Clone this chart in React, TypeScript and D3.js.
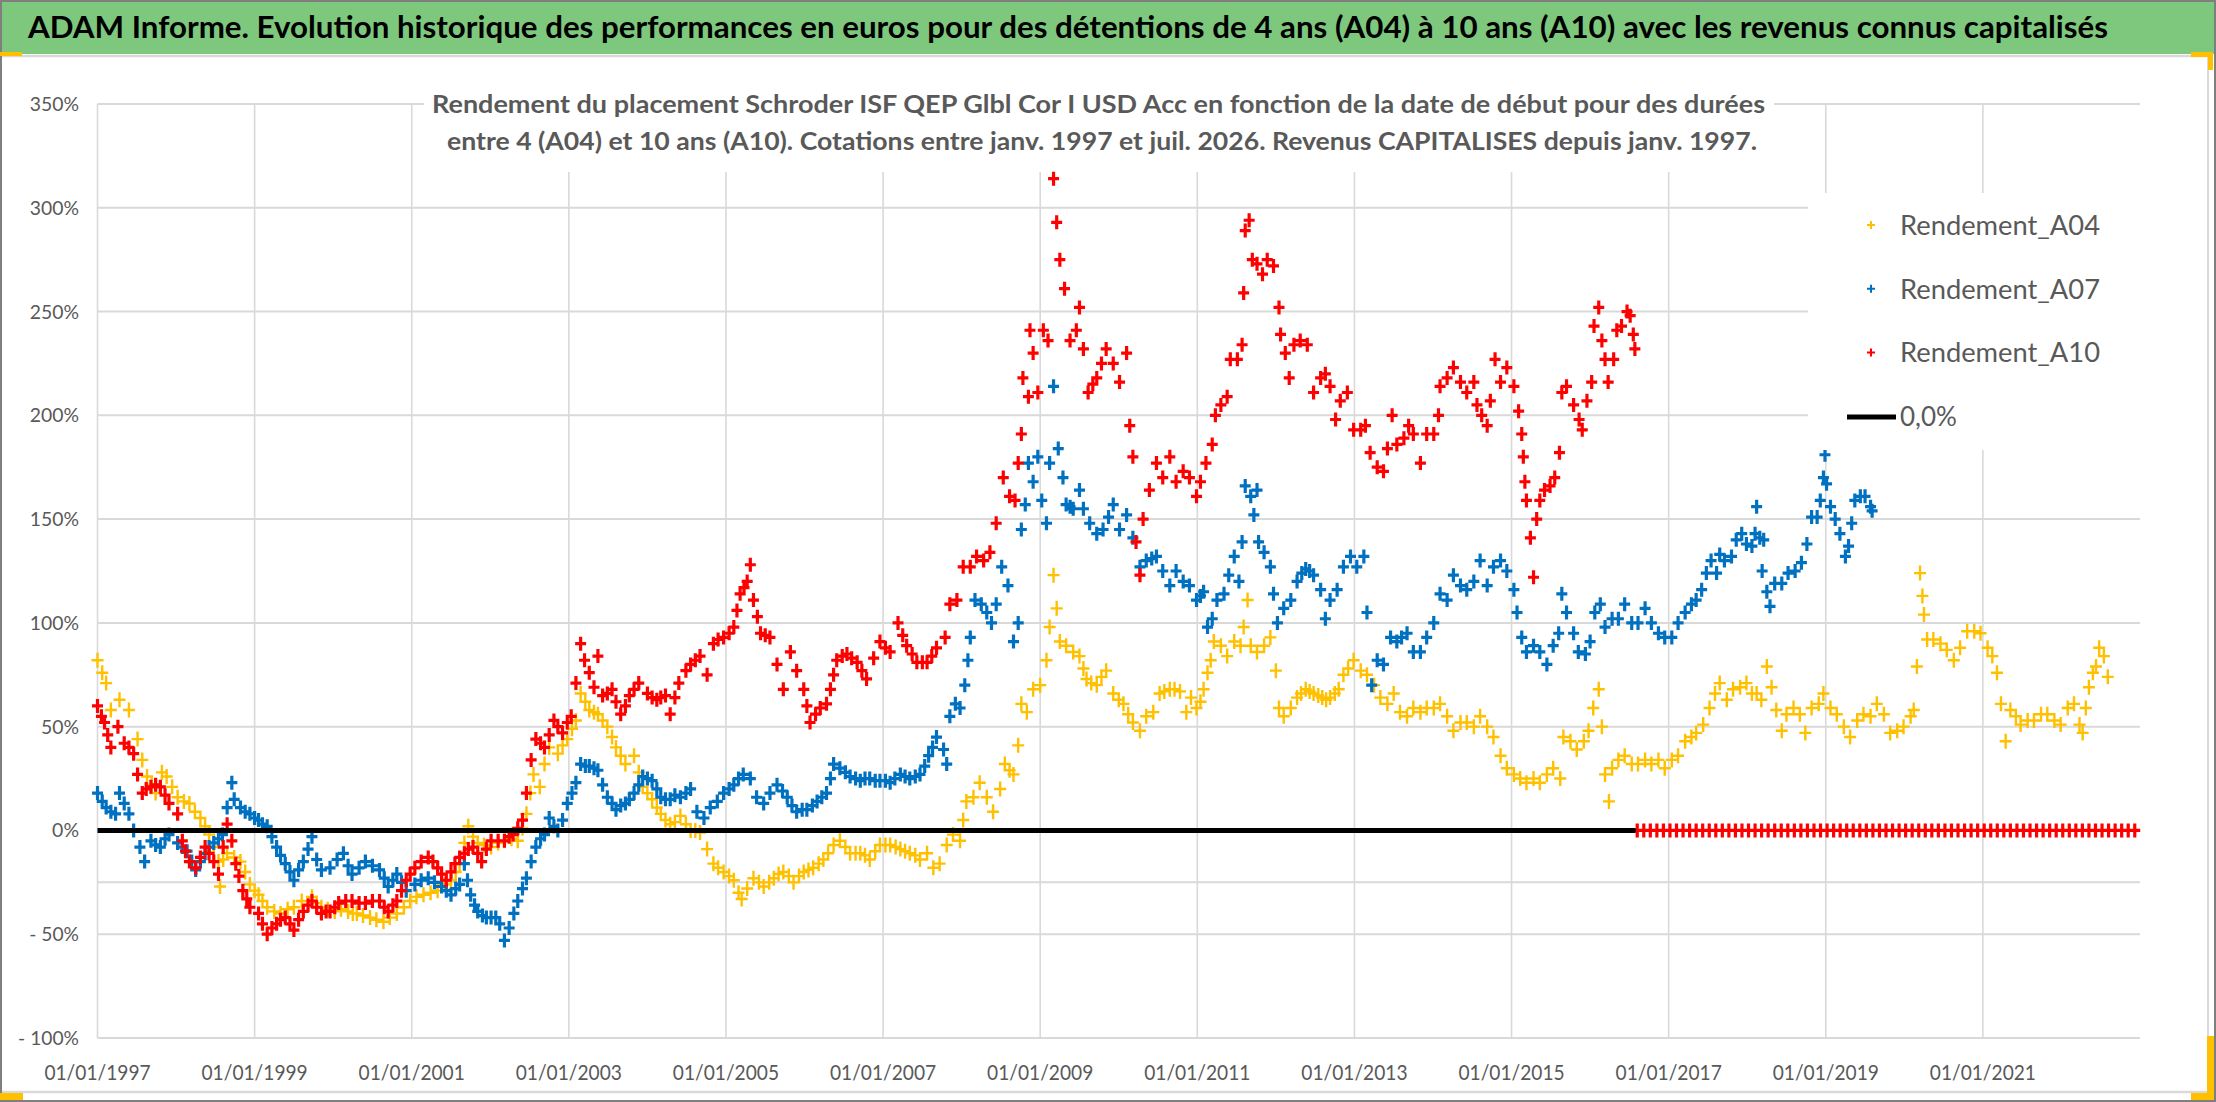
import * as d3 from 'd3';

// Canvas + plot frame (pixels of the reference)
const W = 2216;
const H = 1102;
const PLOT = { left: 97.5, right: 2140, top: 104, bottom: 1038 };
const FONT = 'Lato, "Open Sans", "Liberation Sans", sans-serif';
const GRID = '#d9d9d9';
const TEXT = '#595959';

// Axes
const X_DOMAIN: [number, number] = [1997, 2023];
const Y_DOMAIN: [number, number] = [-100, 350];
const X_TICK_YEARS = [1997, 1999, 2001, 2003, 2005, 2007, 2009, 2011, 2013, 2015, 2017, 2019, 2021];
const Y_TICKS = [350, 300, 250, 200, 150, 100, 50, 0, -50, -100];
const REF_LINE = -25;

const TITLE = 'ADAM Informe. Evolution historique des performances en euros pour des détentions de 4 ans (A04) à 10 ans (A10) avec les revenus connus capitalisés';
const SUBTITLE = [
  'Rendement du placement Schroder ISF QEP Glbl Cor I USD Acc en fonction de la date de début pour des durées',
  'entre 4 (A04) et 10 ans (A10). Cotations entre janv. 1997 et juil. 2026. Revenus CAPITALISES depuis janv. 1997.',
];

// [start date as decimal year, return in %]
const A04: [number, number][] = [
  [1997.0, 82], [1997.06, 76], [1997.11, 71], [1997.17, 58], [1997.28, 63], [1997.4, 58], [1997.51, 44],
  [1997.57, 34], [1997.63, 26], [1997.69, 22], [1997.74, 18], [1997.82, 28], [1997.88, 26], [1997.95, 21],
  [1998.02, 16], [1998.1, 14], [1998.17, 13], [1998.24, 9], [1998.31, 6], [1998.37, 2], [1998.42, -2],
  [1998.48, -8], [1998.54, -15], [1998.56, -27], [1998.6, -14], [1998.65, -11], [1998.74, -13], [1998.82, -15],
  [1998.88, -20], [1998.94, -26], [1999.0, -29], [1999.05, -31], [1999.1, -34], [1999.16, -37], [1999.25, -39],
  [1999.33, -40], [1999.42, -38], [1999.5, -37], [1999.6, -34], [1999.73, -32], [1999.79, -35], [1999.85, -37],
  [1999.93, -38], [2000.02, -39], [2000.1, -38], [2000.19, -39], [2000.25, -40], [2000.3, -40], [2000.38, -41],
  [2000.47, -42], [2000.55, -43], [2000.64, -44], [2000.72, -42], [2000.81, -40], [2000.9, -37], [2000.98, -34],
  [2001.06, -32], [2001.15, -31], [2001.24, -30], [2001.33, -29], [2001.42, -26], [2001.5, -24], [2001.56, -20],
  [2001.61, -16], [2001.67, -6], [2001.72, 2], [2001.78, -3], [2001.84, -6], [2001.92, -7], [2002.01, -8],
  [2002.1, -6], [2002.18, -5], [2002.27, -4], [2002.35, -5], [2002.41, 1], [2002.46, 8], [2002.51, 18],
  [2002.55, 27], [2002.63, 21], [2002.69, 32], [2002.75, 40], [2002.86, 37], [2002.92, 41], [2002.98, 44],
  [2003.04, 49], [2003.09, 53], [2003.15, 66], [2003.21, 62], [2003.26, 58], [2003.32, 57], [2003.37, 56],
  [2003.43, 53], [2003.49, 50], [2003.55, 45], [2003.6, 40], [2003.66, 36], [2003.72, 32], [2003.83, 36],
  [2003.89, 28], [2003.94, 21], [2004.0, 18], [2004.06, 15], [2004.12, 11], [2004.17, 8], [2004.23, 5],
  [2004.29, 3], [2004.35, 4], [2004.42, 7], [2004.49, 3], [2004.55, 0], [2004.61, 0], [2004.67, -1],
  [2004.76, -9], [2004.84, -16], [2004.9, -18], [2004.97, -20], [2005.04, -22], [2005.1, -24], [2005.16, -30],
  [2005.2, -33], [2005.27, -28], [2005.35, -23], [2005.42, -25], [2005.48, -27], [2005.55, -25], [2005.61, -23],
  [2005.67, -21], [2005.73, -20], [2005.8, -22], [2005.86, -25], [2005.93, -22], [2005.99, -20], [2006.05, -19],
  [2006.11, -18], [2006.18, -16], [2006.24, -14], [2006.3, -11], [2006.37, -7], [2006.45, -5], [2006.52, -8],
  [2006.58, -11], [2006.65, -11], [2006.71, -11], [2006.77, -12], [2006.83, -14], [2006.9, -10], [2006.96, -7],
  [2007.03, -7], [2007.09, -7], [2007.16, -8], [2007.22, -9], [2007.28, -10], [2007.34, -11], [2007.41, -12],
  [2007.47, -14], [2007.56, -11], [2007.64, -18], [2007.72, -16], [2007.81, -7], [2007.89, -2], [2007.98, -5],
  [2008.02, 5], [2008.06, 14], [2008.15, 16], [2008.23, 23], [2008.32, 16], [2008.4, 9], [2008.49, 20],
  [2008.55, 32], [2008.61, 29], [2008.66, 27], [2008.72, 41], [2008.76, 61], [2008.83, 57], [2008.91, 68],
  [2009.0, 70], [2009.08, 82], [2009.12, 98], [2009.17, 123], [2009.21, 107], [2009.25, 91], [2009.33, 89],
  [2009.42, 86], [2009.5, 84], [2009.55, 78], [2009.59, 73], [2009.65, 71], [2009.72, 70], [2009.78, 74],
  [2009.84, 77], [2009.93, 66], [2010.0, 63], [2010.06, 61], [2010.12, 56], [2010.18, 52], [2010.27, 48],
  [2010.35, 55], [2010.44, 57], [2010.52, 66], [2010.58, 67], [2010.65, 68], [2010.71, 68], [2010.78, 67],
  [2010.86, 57], [2010.92, 64], [2010.99, 59], [2011.04, 62], [2011.08, 68], [2011.13, 76], [2011.17, 82],
  [2011.21, 91], [2011.3, 89], [2011.38, 84], [2011.47, 91], [2011.55, 89], [2011.59, 98], [2011.64, 111],
  [2011.68, 89], [2011.76, 86], [2011.85, 89], [2011.93, 93], [2012.0, 77], [2012.04, 59], [2012.1, 55],
  [2012.19, 59], [2012.27, 64], [2012.32, 66], [2012.38, 68], [2012.43, 67], [2012.48, 66], [2012.54, 65],
  [2012.59, 64], [2012.64, 63], [2012.69, 64], [2012.75, 66], [2012.8, 68], [2012.86, 75], [2012.92, 78],
  [2012.99, 82], [2013.08, 77], [2013.16, 75], [2013.25, 70], [2013.33, 64], [2013.42, 61], [2013.5, 66],
  [2013.58, 57], [2013.67, 55], [2013.75, 59], [2013.84, 57], [2013.92, 59], [2014.01, 59], [2014.09, 61],
  [2014.18, 55], [2014.26, 48], [2014.35, 52], [2014.43, 52], [2014.52, 50], [2014.6, 55], [2014.69, 50],
  [2014.77, 45], [2014.86, 36], [2014.94, 30], [2015.03, 27], [2015.11, 25], [2015.19, 23], [2015.28, 25],
  [2015.36, 23], [2015.45, 27], [2015.53, 30], [2015.62, 25], [2015.66, 45], [2015.75, 43], [2015.83, 39],
  [2015.92, 43], [2015.98, 48], [2016.04, 59], [2016.11, 68], [2016.15, 50], [2016.19, 27], [2016.24, 14],
  [2016.28, 30], [2016.36, 34], [2016.44, 36], [2016.53, 32], [2016.61, 32], [2016.7, 34], [2016.78, 32],
  [2016.87, 34], [2016.95, 30], [2017.04, 34], [2017.12, 36], [2017.21, 43], [2017.29, 45], [2017.35, 47],
  [2017.44, 51], [2017.52, 59], [2017.59, 66], [2017.65, 71], [2017.74, 63], [2017.82, 68], [2017.91, 69],
  [2017.99, 71], [2018.06, 66], [2018.12, 66], [2018.18, 63], [2018.25, 79], [2018.31, 69], [2018.37, 58],
  [2018.44, 48], [2018.5, 56], [2018.59, 59], [2018.67, 56], [2018.74, 47], [2018.82, 59], [2018.91, 61],
  [2018.97, 66], [2019.06, 59], [2019.14, 56], [2019.23, 50], [2019.31, 45], [2019.4, 53], [2019.48, 56],
  [2019.57, 55], [2019.65, 61], [2019.74, 56], [2019.82, 47], [2019.91, 48], [2019.99, 50], [2020.08, 55],
  [2020.12, 58], [2020.16, 79], [2020.2, 124], [2020.23, 113], [2020.25, 104], [2020.29, 92], [2020.37, 92],
  [2020.46, 90], [2020.54, 87], [2020.63, 82], [2020.71, 88], [2020.8, 96], [2020.89, 96], [2020.97, 95],
  [2021.06, 88], [2021.12, 84], [2021.18, 76], [2021.23, 61], [2021.29, 43], [2021.35, 58], [2021.42, 55],
  [2021.48, 51], [2021.57, 53], [2021.65, 53], [2021.74, 56], [2021.82, 56], [2021.91, 53], [2021.99, 51],
  [2022.08, 59], [2022.16, 61], [2022.23, 51], [2022.27, 47], [2022.31, 59], [2022.35, 69], [2022.4, 76],
  [2022.44, 79], [2022.48, 88], [2022.54, 84], [2022.59, 74],
];

const A07: [number, number][] = [
  [1997.0, 18], [1997.06, 14], [1997.11, 11], [1997.17, 9], [1997.23, 8], [1997.28, 18], [1997.34, 13],
  [1997.4, 8], [1997.46, 0], [1997.54, -8], [1997.6, -15], [1997.68, -5], [1997.74, -7], [1997.8, -8],
  [1997.86, -4], [1997.91, -2], [1998.02, -6], [1998.08, -8], [1998.14, -10], [1998.2, -15], [1998.25, -19],
  [1998.31, -15], [1998.37, -11], [1998.42, -8], [1998.48, -6], [1998.54, -4], [1998.59, -2], [1998.65, 11],
  [1998.71, 23], [1998.74, 15], [1998.82, 11], [1998.88, 9], [1998.94, 8], [1999.0, 6], [1999.05, 5],
  [1999.1, 3], [1999.16, 2], [1999.22, -3], [1999.28, -8], [1999.33, -12], [1999.39, -16], [1999.45, -20],
  [1999.5, -24], [1999.56, -19], [1999.62, -15], [1999.68, -9], [1999.73, -3], [1999.79, -14], [1999.85, -19],
  [1999.96, -18], [2000.05, -14], [2000.13, -11], [2000.19, -17], [2000.24, -21], [2000.33, -18], [2000.41, -15],
  [2000.5, -17], [2000.59, -19], [2000.65, -23], [2000.7, -27], [2000.76, -24], [2000.81, -21], [2000.87, -25],
  [2000.93, -29], [2001.04, -26], [2001.12, -24], [2001.21, -23], [2001.29, -25], [2001.38, -27], [2001.44, -29],
  [2001.5, -31], [2001.56, -28], [2001.61, -26], [2001.67, -16], [2001.71, -24], [2001.75, -31], [2001.8, -36],
  [2001.84, -39], [2001.9, -41], [2001.95, -42], [2002.01, -42], [2002.07, -42], [2002.12, -45], [2002.18, -53],
  [2002.24, -47], [2002.3, -40], [2002.35, -34], [2002.41, -28], [2002.46, -23], [2002.52, -15], [2002.58, -8],
  [2002.64, -4], [2002.69, -2], [2002.75, 6], [2002.81, 2], [2002.86, 0], [2002.92, 5], [2002.98, 13],
  [2003.04, 18], [2003.09, 23], [2003.15, 32], [2003.21, 31], [2003.26, 31], [2003.32, 30], [2003.37, 29],
  [2003.43, 22], [2003.49, 16], [2003.55, 13], [2003.6, 10], [2003.66, 12], [2003.72, 13], [2003.77, 15],
  [2003.83, 18], [2003.89, 22], [2003.94, 26], [2004.0, 25], [2004.06, 24], [2004.12, 20], [2004.17, 16],
  [2004.23, 15], [2004.29, 15], [2004.35, 17], [2004.42, 16], [2004.49, 18], [2004.55, 20], [2004.63, 9],
  [2004.72, 6], [2004.8, 11], [2004.89, 14], [2004.97, 18], [2005.04, 20], [2005.1, 22], [2005.16, 25],
  [2005.22, 27], [2005.31, 25], [2005.39, 16], [2005.48, 13], [2005.56, 18], [2005.65, 22], [2005.72, 19],
  [2005.78, 16], [2005.84, 12], [2005.9, 9], [2005.97, 10], [2006.03, 10], [2006.1, 12], [2006.16, 14],
  [2006.22, 16], [2006.28, 18], [2006.33, 25], [2006.37, 32], [2006.45, 30], [2006.52, 28], [2006.58, 26],
  [2006.65, 25], [2006.71, 24], [2006.77, 25], [2006.83, 25], [2006.9, 24], [2006.96, 24], [2007.03, 24],
  [2007.09, 23], [2007.15, 25], [2007.22, 27], [2007.28, 26], [2007.34, 25], [2007.41, 26], [2007.47, 27],
  [2007.53, 31], [2007.58, 36], [2007.63, 40], [2007.68, 45], [2007.77, 39], [2007.81, 32], [2007.85, 55],
  [2007.92, 61], [2007.98, 59], [2008.04, 70], [2008.08, 82], [2008.11, 93], [2008.17, 111], [2008.25, 109],
  [2008.32, 105], [2008.38, 100], [2008.44, 109], [2008.51, 127], [2008.59, 118], [2008.66, 91], [2008.72, 100],
  [2008.76, 145], [2008.81, 157], [2008.85, 177], [2008.91, 168], [2008.97, 180], [2009.02, 159], [2009.08, 148],
  [2009.12, 177], [2009.17, 214], [2009.23, 184], [2009.29, 170], [2009.33, 157], [2009.38, 156], [2009.42, 155],
  [2009.5, 164], [2009.55, 155], [2009.63, 148], [2009.72, 143], [2009.8, 145], [2009.87, 151], [2009.93, 157],
  [2010.01, 145], [2010.1, 152], [2010.18, 141], [2010.27, 127], [2010.35, 130], [2010.42, 131], [2010.48, 132],
  [2010.56, 125], [2010.65, 118], [2010.73, 125], [2010.82, 120], [2010.9, 118], [2010.99, 111], [2011.04, 113],
  [2011.08, 115], [2011.13, 98], [2011.19, 102], [2011.25, 111], [2011.34, 114], [2011.4, 123], [2011.47, 132],
  [2011.53, 120], [2011.57, 139], [2011.61, 166], [2011.68, 161], [2011.72, 152], [2011.76, 164], [2011.78, 139],
  [2011.85, 134], [2011.93, 127], [2011.97, 114], [2012.02, 100], [2012.1, 107], [2012.19, 111], [2012.27, 120],
  [2012.33, 124], [2012.38, 126], [2012.43, 125], [2012.48, 123], [2012.57, 116], [2012.63, 102], [2012.69, 111],
  [2012.78, 116], [2012.86, 127], [2012.95, 132], [2013.03, 127], [2013.12, 132], [2013.16, 105], [2013.22, 70],
  [2013.29, 82], [2013.37, 80], [2013.46, 93], [2013.54, 91], [2013.6, 93], [2013.67, 95], [2013.75, 86],
  [2013.84, 86], [2013.92, 93], [2014.01, 100], [2014.09, 114], [2014.18, 111], [2014.26, 123], [2014.35, 118],
  [2014.43, 116], [2014.52, 120], [2014.6, 130], [2014.69, 118], [2014.77, 127], [2014.86, 130], [2014.94, 125],
  [2015.03, 116], [2015.07, 105], [2015.13, 93], [2015.19, 86], [2015.28, 89], [2015.36, 86], [2015.45, 80],
  [2015.53, 89], [2015.6, 95], [2015.64, 114], [2015.7, 105], [2015.79, 95], [2015.85, 86], [2015.94, 85],
  [2016.0, 91], [2016.06, 105], [2016.13, 109], [2016.19, 98], [2016.28, 102], [2016.36, 102], [2016.44, 109],
  [2016.53, 100], [2016.61, 100], [2016.7, 107], [2016.78, 100], [2016.87, 95], [2016.95, 93], [2017.04, 93],
  [2017.12, 100], [2017.21, 105], [2017.29, 109], [2017.35, 111], [2017.42, 116], [2017.48, 124], [2017.54, 130],
  [2017.61, 124], [2017.65, 133], [2017.71, 130], [2017.8, 132], [2017.86, 140], [2017.93, 143], [2017.99, 138],
  [2018.06, 137], [2018.1, 143], [2018.12, 156], [2018.16, 141], [2018.19, 125], [2018.21, 140], [2018.25, 115],
  [2018.29, 108], [2018.35, 119], [2018.44, 119], [2018.52, 124], [2018.61, 125], [2018.69, 129], [2018.76, 138],
  [2018.82, 151], [2018.89, 151], [2018.93, 159], [2018.97, 170], [2018.99, 181], [2019.01, 167], [2019.06, 156],
  [2019.12, 150], [2019.18, 143], [2019.25, 132], [2019.29, 137], [2019.33, 148], [2019.37, 159], [2019.44, 161],
  [2019.5, 161], [2019.57, 156], [2019.59, 154],
];

const A10: [number, number][] = [
  [1997.0, 60], [1997.05, 55], [1997.09, 52], [1997.13, 46], [1997.17, 40], [1997.26, 50], [1997.34, 42],
  [1997.4, 40], [1997.46, 37], [1997.51, 27], [1997.57, 18], [1997.62, 20], [1997.68, 21], [1997.74, 22],
  [1997.8, 21], [1997.86, 17], [1997.91, 13], [1998.02, 8], [1998.08, -5], [1998.12, -10], [1998.17, -15],
  [1998.25, -18], [1998.31, -13], [1998.37, -8], [1998.42, -11], [1998.48, -15], [1998.54, -21], [1998.6, -8],
  [1998.65, 3], [1998.71, -5], [1998.76, -16], [1998.8, -22], [1998.85, -29], [1998.9, -33], [1998.94, -37],
  [1999.05, -40], [1999.1, -45], [1999.16, -50], [1999.22, -47], [1999.28, -45], [1999.33, -43], [1999.39, -42],
  [1999.45, -45], [1999.5, -48], [1999.56, -43], [1999.62, -39], [1999.68, -36], [1999.73, -34], [1999.79, -37],
  [1999.85, -40], [1999.91, -39], [1999.96, -39], [2000.02, -37], [2000.07, -35], [2000.16, -34], [2000.24, -34],
  [2000.33, -35], [2000.41, -35], [2000.5, -34], [2000.59, -34], [2000.65, -37], [2000.7, -39], [2000.76, -36],
  [2000.81, -34], [2000.87, -29], [2000.93, -24], [2000.98, -21], [2001.04, -18], [2001.12, -15], [2001.21, -13],
  [2001.27, -15], [2001.33, -18], [2001.38, -21], [2001.44, -24], [2001.5, -20], [2001.55, -16], [2001.61, -13],
  [2001.67, -11], [2001.72, -9], [2001.78, -8], [2001.84, -11], [2001.89, -15], [2001.95, -9], [2002.01, -5],
  [2002.1, -5], [2002.18, -5], [2002.24, -3], [2002.29, -2], [2002.35, 1], [2002.41, 5], [2002.46, 18],
  [2002.52, 34], [2002.58, 44], [2002.64, 42], [2002.69, 40], [2002.75, 46], [2002.81, 53], [2002.86, 50],
  [2002.92, 47], [2002.98, 52], [2003.03, 55], [2003.09, 71], [2003.15, 90], [2003.2, 82], [2003.26, 76],
  [2003.32, 69], [2003.37, 84], [2003.43, 65], [2003.49, 66], [2003.55, 68], [2003.6, 62], [2003.66, 56],
  [2003.72, 60], [2003.77, 65], [2003.83, 68], [2003.89, 71], [2004.0, 66], [2004.06, 64], [2004.12, 63],
  [2004.17, 64], [2004.23, 65], [2004.29, 56], [2004.35, 64], [2004.4, 71], [2004.49, 77], [2004.55, 80],
  [2004.61, 82], [2004.67, 84], [2004.76, 75], [2004.84, 90], [2004.9, 92], [2004.97, 93], [2005.04, 95],
  [2005.1, 98], [2005.14, 106], [2005.18, 114], [2005.23, 117], [2005.27, 120], [2005.31, 128], [2005.35, 111],
  [2005.4, 103], [2005.44, 95], [2005.5, 94], [2005.56, 93], [2005.65, 80], [2005.73, 68], [2005.82, 86],
  [2005.9, 77], [2005.99, 68], [2006.03, 60], [2006.07, 52], [2006.14, 56], [2006.2, 59], [2006.28, 61],
  [2006.33, 68], [2006.37, 75], [2006.41, 82], [2006.48, 84], [2006.54, 85], [2006.6, 83], [2006.67, 81],
  [2006.73, 77], [2006.79, 73], [2006.88, 83], [2006.96, 91], [2007.03, 88], [2007.09, 86], [2007.19, 100],
  [2007.25, 94], [2007.3, 89], [2007.37, 85], [2007.43, 81], [2007.5, 81], [2007.56, 81], [2007.62, 84],
  [2007.68, 88], [2007.79, 93], [2007.85, 109], [2007.94, 111], [2008.02, 127], [2008.11, 127], [2008.19, 132],
  [2008.28, 130], [2008.36, 134], [2008.44, 148], [2008.53, 170], [2008.61, 161], [2008.68, 159], [2008.72, 177],
  [2008.76, 191], [2008.78, 218], [2008.85, 209], [2008.87, 241], [2008.91, 230], [2008.97, 211], [2009.04, 241],
  [2009.1, 236], [2009.17, 314], [2009.21, 293], [2009.25, 275], [2009.31, 261], [2009.38, 236], [2009.46, 241],
  [2009.5, 252], [2009.55, 232], [2009.61, 211], [2009.67, 215], [2009.72, 218], [2009.78, 225], [2009.84, 232],
  [2009.93, 225], [2010.01, 216], [2010.1, 230], [2010.14, 195], [2010.18, 180], [2010.22, 139], [2010.27, 123],
  [2010.31, 150], [2010.39, 164], [2010.48, 177], [2010.56, 170], [2010.65, 180], [2010.73, 168], [2010.82, 173],
  [2010.9, 170], [2010.99, 161], [2011.04, 168], [2011.11, 177], [2011.19, 186], [2011.23, 200], [2011.3, 205],
  [2011.38, 209], [2011.42, 227], [2011.51, 227], [2011.57, 234], [2011.59, 259], [2011.61, 289], [2011.66, 294],
  [2011.7, 275], [2011.76, 273], [2011.83, 268], [2011.89, 275], [2011.97, 272], [2012.04, 252], [2012.06, 239],
  [2012.12, 230], [2012.17, 218], [2012.23, 234], [2012.31, 236], [2012.4, 234], [2012.48, 211], [2012.57, 218],
  [2012.63, 220], [2012.69, 214], [2012.76, 198], [2012.82, 207], [2012.91, 211], [2012.99, 193], [2013.08, 193],
  [2013.14, 195], [2013.2, 182], [2013.29, 175], [2013.37, 173], [2013.42, 184], [2013.48, 200], [2013.54, 186],
  [2013.63, 189], [2013.69, 195], [2013.75, 191], [2013.84, 177], [2013.92, 191], [2014.01, 191], [2014.07, 200],
  [2014.09, 214], [2014.18, 218], [2014.26, 223], [2014.35, 216], [2014.43, 211], [2014.52, 216], [2014.56, 205],
  [2014.62, 200], [2014.69, 195], [2014.73, 207], [2014.79, 227], [2014.86, 216], [2014.94, 223], [2015.03, 214],
  [2015.09, 202], [2015.13, 191], [2015.15, 180], [2015.17, 168], [2015.19, 159], [2015.24, 141], [2015.28, 122],
  [2015.32, 150], [2015.36, 159], [2015.42, 164], [2015.49, 166], [2015.55, 170], [2015.61, 182], [2015.64, 211],
  [2015.7, 214], [2015.79, 205], [2015.86, 198], [2015.9, 193], [2015.96, 207], [2016.02, 216], [2016.05, 243],
  [2016.11, 252], [2016.15, 236], [2016.19, 227], [2016.23, 216], [2016.3, 227], [2016.34, 241], [2016.4, 243],
  [2016.47, 250], [2016.51, 248], [2016.55, 239], [2016.57, 232],
];

// After its last value A10 is plotted as 0 up to the end of the axis
const A10_ZERO_TAIL: [number, number] = [2016.6, 2023.0];
// Black 0,0% line
const ZERO_LINE: [number, number] = [1997.0, 2016.58];

// rx / ry: half-size of the "+" marker, sw: its stroke width
const SERIES = [
  { key: 'A04', label: 'Rendement_A04', color: '#ffc000', rx: 6, ry: 7.5, sw: 2.4 },
  { key: 'A07', label: 'Rendement_A07', color: '#0070c0', rx: 5.5, ry: 7, sw: 3.2 },
  { key: 'A10', label: 'Rendement_A10', color: '#ff0000', rx: 5.5, ry: 7, sw: 3.2 },
];

// approximate Calibri advance widths (em) for axis labels
const CW: Record<string, number> = { '/': 0.386, '%': 0.715, '-': 0.306, ' ': 0.226 };
const calibriWidth = (s: string, size: number) =>
  s.split('').reduce((a, c) => a + (CW[c] ?? 0.507), 0) * size;

const yLabel = (v: number) => (v < 0 ? `- ${-v}%` : `${v}%`);

const plusPath = (pts: [number, number][], rx: number, ry: number) =>
  pts.map(([x, y]) => `M${x - rx},${y}h${2 * rx}M${x},${y - ry}v${2 * ry}`).join('');

export default function App() {
  const x = d3.scaleLinear().domain(X_DOMAIN).range([PLOT.left, PLOT.right]);
  const y = d3.scaleLinear().domain(Y_DOMAIN).range([PLOT.bottom, PLOT.top]);

  const data: Record<string, [number, number][]> = {
    A04,
    A07,
    A10: [...A10, ...d3.range(A10_ZERO_TAIL[0], A10_ZERO_TAIL[1], 1 / 12).map(t => [t, 0] as [number, number])],
  };

  const zeroLine = d3.line<[number, number]>().x(d => x(d[0])).y(d => y(d[1]))([
    [ZERO_LINE[0], 0],
    [ZERO_LINE[1], 0],
  ]);

  const legendRows = [
    ...SERIES.map(s => ({ key: s.key, label: s.label, color: s.color, line: false })),
    { key: 'zero', label: '0,0%', color: '#000', line: true },
  ];

  return (
    <div style={{ position: 'absolute', left: 0, top: 0 }}>
      <svg width={W} height={H} style={{ display: 'block', background: '#fff', fontFamily: FONT }}>
        {/* header band */}
        <rect x={0} y={0} width={W} height={54} fill="#7ec87e" />
        <text x={28} y={38} fontSize={31} fontWeight={700} fill="#000" textLength={2080} lengthAdjust="spacingAndGlyphs">
          {TITLE}
        </text>
        <line x1={0} x2={2208} y1={56} y2={56} stroke={GRID} strokeWidth={2.5} />
        <line x1={2208} x2={2208} y1={56} y2={1092} stroke={GRID} strokeWidth={2} />
        <line x1={0} x2={2208} y1={1092} y2={1092} stroke={GRID} strokeWidth={2.5} />

        {/* gridlines */}
        {Y_TICKS.map(v => (
          <line key={'gy' + v} x1={PLOT.left} x2={PLOT.right} y1={y(v)} y2={y(v)} stroke={GRID} strokeWidth={2} />
        ))}
        <line x1={PLOT.left} x2={PLOT.right} y1={y(REF_LINE)} y2={y(REF_LINE)} stroke={GRID} strokeWidth={2} />
        {X_TICK_YEARS.map(t => (
          <line key={'gx' + t} x1={x(t)} x2={x(t)} y1={PLOT.top} y2={PLOT.bottom} stroke={GRID} strokeWidth={1.6} />
        ))}

        {/* y tick labels */}
        {Y_TICKS.map(v => {
          const s = yLabel(v);
          return (
            <text key={'ty' + v} x={79} y={y(v) + 7} fontSize={20} fill={TEXT} textAnchor="end"
              textLength={calibriWidth(s, 22)} lengthAdjust="spacingAndGlyphs">
              {s}
            </text>
          );
        })}
        {/* x tick labels */}
        {X_TICK_YEARS.map(t => {
          const s = `01/01/${t}`;
          return (
            <text key={'tx' + t} x={x(t)} y={1080} fontSize={22} fill={TEXT} textAnchor="middle"
              textLength={calibriWidth(s, 22)} lengthAdjust="spacingAndGlyphs">
              {s}
            </text>
          );
        })}

        {/* subtitle box */}
        <rect x={424} y={76} width={1350} height={96} fill="#fff" />
        <text x={432} y={113} fontSize={25} fontWeight={700} fill={TEXT} textLength={1333} lengthAdjust="spacingAndGlyphs">
          {SUBTITLE[0]}
        </text>
        <text x={447} y={150} fontSize={25} fontWeight={700} fill={TEXT} textLength={1310} lengthAdjust="spacingAndGlyphs">
          {SUBTITLE[1]}
        </text>

        {/* series */}
        {SERIES.map(s => (
          <path
            key={s.key}
            d={plusPath(data[s.key].map(([t, v]) => [x(t), y(v)]), s.rx, s.ry)}
            stroke={s.color}
            strokeWidth={s.sw}
            fill="none"
          />
        ))}
        <path d={zeroLine ?? ''} stroke="#000" strokeWidth={5} fill="none" />

        {/* legend */}
        <rect x={1808} y={193} width={337} height={257} fill="#fff" />
        {legendRows.map((row, i) => {
          const base = 235 + i * 63.7;
          return (
            <g key={row.key}>
              {row.line ? (
                <line x1={1847} x2={1896} y1={base - 9} y2={base - 9} stroke="#000" strokeWidth={5} />
              ) : (
                <path d={plusPath([[1871, base - 10]], 4, 4)} stroke={row.color} strokeWidth={2} fill="none" />
              )}
              <text x={1900} y={base} fontSize={27} fill={TEXT}
                textLength={row.line ? 57 : 200} lengthAdjust="spacingAndGlyphs">
                {row.label}
              </text>
            </g>
          );
        })}

        {/* outer frame and selection handles */}
        <rect x={1} y={1} width={W - 2} height={H - 2} fill="none" stroke="#7f7f7f" strokeWidth={2} />
        <rect x={0} y={52} width={22} height={4} fill="#ffc000" />
        <rect x={2191} y={52} width={22} height={5} fill="#ffc000" />
        <rect x={2208} y={52} width={5} height={18} fill="#ffc000" />
        <rect x={2207} y={1036} width={7} height={64} fill="#ffc000" />
        <rect x={2191} y={1093} width={22} height={7} fill="#ffc000" />
        <rect x={0} y={1093} width={23} height={7} fill="#ffc000" />
      </svg>
    </div>
  );
}
